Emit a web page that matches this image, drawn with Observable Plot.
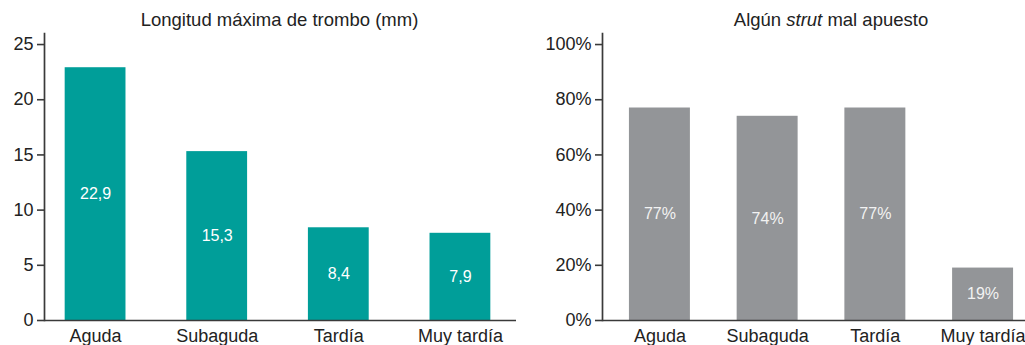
<!DOCTYPE html>
<html lang="es">
<head>
<meta charset="utf-8">
<script src="https://cdn.jsdelivr.net/npm/d3@7"></script>
<script src="https://cdn.jsdelivr.net/npm/@observablehq/plot@0.6"></script>
<style>
  html, body { margin: 0; padding: 0; background: #fff; }
  body { font-family: "Liberation Sans", Arial, Helvetica, sans-serif; color: #222; }
  #wrap { display: flex; width: 1025px; height: 345px; overflow: hidden; }
  .panel { display: flex; flex-direction: column; }
  .title { height: 30px; box-sizing: border-box; padding-top: 10px; line-height: 20px; font-size: 18.5px; text-align: center; color: #222; white-space: nowrap; }
  .panel svg { display: block; overflow: visible; }
</style>
</head>
<body>
<div id="wrap">
  <div class="panel" id="left" style="width:520px">
    <div class="title" style="padding-left:39px">Longitud máxima de trombo (mm)</div>
  </div>
  <div class="panel" id="right" style="width:505px">
    <div class="title" style="padding-left:117px">Algún <i>strut</i> mal apuesto</div>
  </div>
</div>
<script>
// Categorías de trombosis según el momento de aparición
const categories = ["Aguda", "Subaguda", "Tardía", "Muy tardía"];

// Longitud máxima de trombo (mm)
const thrombusLength = [22.9, 15.3, 8.4, 7.9];
const lengthTicks = [0, 5, 10, 15, 20, 25];

// Porcentaje con algún strut mal apuesto
const malapposedPct = [77, 74, 77, 19];
const pctTicks = [0, 20, 40, 60, 80, 100];

const teal = "#009e99";
const gray = "#939598";
const axisColor = "#3a3a3a";
const svgHeight = 315;

function panel({values, ticks, domainMax, tickFormat, labelFormat, fill, labelFill, width, marginLeft, marginRight, xRange, paddingInner, paddingOuter}) {
  const rows = categories.map((c, i) => ({cat: c, value: values[i]}));
  return Plot.plot({
    width,
    height: svgHeight,
    marginTop: 3,
    marginBottom: 25,
    marginLeft,
    marginRight,
    style: {fontFamily: '"Liberation Sans", Arial, sans-serif', fontSize: "18px", color: "#222", background: "transparent"},
    x: {type: "band", domain: categories, range: xRange, paddingInner, paddingOuter, align: 0.5, round: false, label: null},
    y: {domain: [0, domainMax], label: null},
    marks: [
      Plot.barY(rows, {x: "cat", y: "value", fill}),
      Plot.text(rows, {x: "cat", y: d => d.value / 2, text: d => labelFormat(d.value), fill: labelFill, fontSize: 16}),
      Plot.ruleY([0], {stroke: axisColor, strokeWidth: 1.7}),
      Plot.frame({anchor: "left", stroke: axisColor, strokeWidth: 1.7}),
      Plot.axisY({ticks, tickFormat, tickSize: 7, tickPadding: 4, stroke: axisColor, strokeWidth: 1.6, fill: "#222", fontSize: 18, label: null}),
      Plot.axisX({tickSize: 0, tickPadding: 9, fill: "#222", fontSize: 18, label: null})
    ]
  });
}

document.getElementById("left").appendChild(panel({
  values: thrombusLength,
  ticks: lengthTicks,
  domainMax: 26,
  tickFormat: d => String(d),
  labelFormat: v => v.toFixed(1).replace(".", ","),
  fill: teal,
  labelFill: "#ffffff",
  width: 520,
  marginLeft: 44,
  marginRight: 4,
  xRange: [44, 511],
  paddingInner: 0.5,
  paddingOuter: 0.17
}));

document.getElementById("right").appendChild(panel({
  values: malapposedPct,
  ticks: pctTicks,
  domainMax: 104,
  tickFormat: d => d + "%",
  labelFormat: v => v + "%",
  fill: gray,
  labelFill: "#f2f2f2",
  width: 505,
  marginLeft: 82,
  marginRight: 0,
  xRange: [82, 520],
  paddingInner: 0.434,
  paddingOuter: 0.25
}));
</script>
</body>
</html>
